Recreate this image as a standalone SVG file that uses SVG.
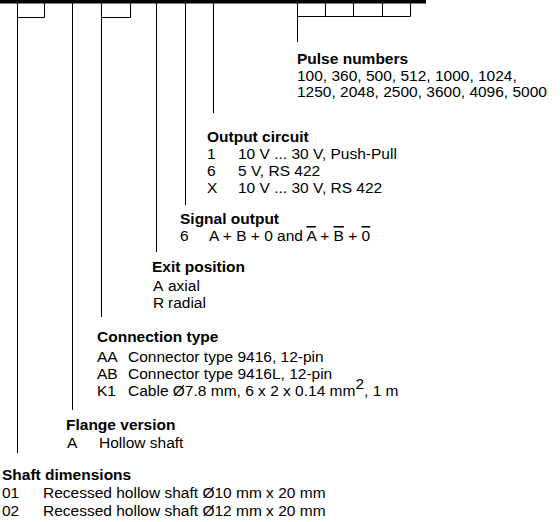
<svg xmlns="http://www.w3.org/2000/svg" width="560" height="522" viewBox="0 0 560 522">
<style>
text{font-family:"Liberation Sans",Arial,sans-serif;font-size:15.5px;fill:#000}
.t{font-weight:bold}
.ln{fill:none;stroke:#000;stroke-width:1}
.ov{text-decoration:overline}
</style>
<rect width="560" height="522" fill="#fff"/>
<g id="code-header">
<rect x="0" y="0" width="426" height="3.5" fill="#000"/>
<path class="ln" d="M17.5,3V17.5H44.5V3M101.5,3V17.5H130.5V3M297.5,3V16.5H410.5V3M325.5,3V16.5M353.5,3V16.5M382.5,3V16.5"/>
</g>
<g id="connectors">
<path class="ln" d="M17.5,17V453M72.5,3V410M101.5,17V317M156.5,3V252M185.5,3V205M213.5,3V113M297.5,16V42"/>
</g>
<g id="pulse-numbers">
<text class="t" x="297" y="64">Pulse numbers</text>
<text x="297" y="81">100, 360, 500, 512, 1000, 1024,</text>
<text x="297" y="97">1250, 2048, 2500, 3600, 4096, 5000</text>
</g>
<g id="output-circuit">
<text class="t" x="207" y="142">Output circuit</text>
<text x="207" y="159">1</text><text x="238" y="159">10 V ... 30 V, Push-Pull</text>
<text x="207" y="176">6</text><text x="238" y="176">5 V, RS 422</text>
<text x="207" y="193">X</text><text x="238" y="193">10 V ... 30 V, RS 422</text>
</g>
<g id="signal-output">
<text class="t" x="180" y="224">Signal output</text>
<text x="180" y="241">6</text><text x="209" y="241">A + B + 0 and <tspan class="ov">A</tspan> + <tspan class="ov">B</tspan> + <tspan class="ov">0</tspan></text>
</g>
<g id="exit-position">
<text class="t" x="152" y="272">Exit position</text>
<text x="153" y="291">A</text><text x="168" y="291">axial</text>
<text x="153" y="308">R</text><text x="168" y="308">radial</text>
</g>
<g id="connection-type">
<text class="t" x="97" y="342">Connection type</text>
<text x="97" y="362">AA</text><text x="128" y="362">Connector type 9416, 12-pin</text>
<text x="97" y="379">AB</text><text x="128" y="379">Connector type 9416L, 12-pin</text>
<text x="97" y="396">K1</text><text x="128" y="396">Cable Ø7.8 mm, 6 x 2 x 0.14 mm<tspan dy="-7">2</tspan><tspan dy="7">, 1 m</tspan></text>
</g>
<g id="flange-version">
<text class="t" x="66" y="430">Flange version</text>
<text x="67" y="448">A</text><text x="99" y="448">Hollow shaft</text>
</g>
<g id="shaft-dimensions">
<text class="t" x="2" y="480">Shaft dimensions</text>
<text x="2" y="498">01</text><text x="43" y="498">Recessed hollow shaft Ø10 mm x 20 mm</text>
<text x="2" y="516">02</text><text x="43" y="516">Recessed hollow shaft Ø12 mm x 20 mm</text>
</g>
</svg>
